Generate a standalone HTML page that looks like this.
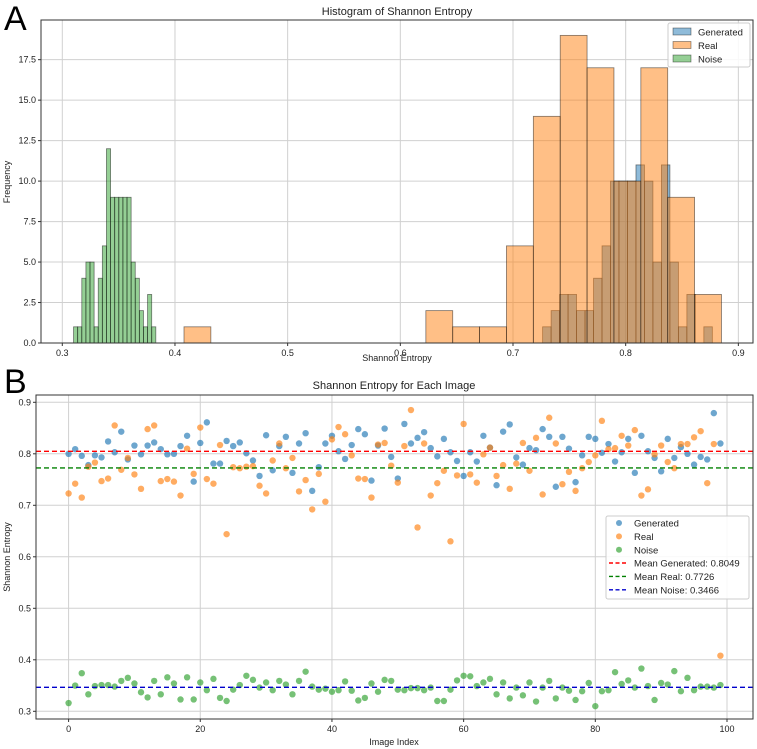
<!DOCTYPE html>
<html><head><meta charset="utf-8">
<style>
html,body{margin:0;padding:0;background:#fff;}
svg{display:block;font-family:"Liberation Sans","DejaVu Sans",sans-serif;}
</style></head>
<body>
<svg id="fig" width="757" height="749" viewBox="0 0 757 749" xmlns="http://www.w3.org/2000/svg">
<text x="4" y="30" font-size="34" fill="#000">A</text>
<text x="397" y="15" font-size="11" text-anchor="middle" fill="#222">Histogram of Shannon Entropy</text>
<text x="397" y="361" font-size="9" text-anchor="middle" fill="#222">Shannon Entropy</text>
<text x="10" y="182" font-size="9" text-anchor="middle" fill="#222" transform="rotate(-90 10 182)">Frequency</text>
<g id="histGrid"></g><g id="histBars"></g><g id="histAxes"></g>
<text x="4" y="393" font-size="34" fill="#000">B</text>
<text x="394" y="389" font-size="11" text-anchor="middle" fill="#222">Shannon Entropy for Each Image</text>
<text x="394" y="745" font-size="9" text-anchor="middle" fill="#222">Image Index</text>
<text x="10" y="557" font-size="9" text-anchor="middle" fill="#222" transform="rotate(-90 10 557)">Shannon Entropy</text>
<g id="scGrid"></g><g id="scMarks"></g><g id="scAxes"></g><g id="legends"></g>
</svg>
<script>
// ---------- Histogram data ----------
const genStart = 0.7263, genWidth = 0.00753;
const genCounts = [1,2,3,3,2,2,4,6,10,10,10,11,10,5,11,5,1,3,0,1];
const realStart = 0.408, realWidth = 0.02385;
const realCounts = [1,0,0,0,0,0,0,0,0,2,1,1,6,14,19,17,10,17,9,3];
const noiseStart = 0.310, noiseWidth = 0.00365;
const noiseCounts = [1,1,4,5,5,1,4,6,12,9,9,9,9,9,5,4,2,1,3,1];
const histXTicks = [0.3,0.4,0.5,0.6,0.7,0.8,0.9];
const histYTicks = [0,2.5,5,7.5,10,12.5,15,17.5];
// ---------- Scatter data ----------
const generated = [0.800,0.809,0.796,0.778,0.797,0.793,0.824,0.803,0.843,0.789,0.816,0.799,0.816,0.822,0.809,0.799,0.800,0.815,0.835,0.746,
0.821,0.861,0.781,0.781,0.825,0.815,0.822,0.801,0.787,0.757,0.836,0.768,0.815,0.833,0.763,0.820,0.840,0.728,0.774,0.820,
0.835,0.805,0.790,0.817,0.848,0.838,0.748,0.816,0.849,0.794,0.752,0.858,0.820,0.831,0.842,0.811,0.795,0.829,0.803,0.786,
0.757,0.803,0.785,0.835,0.812,0.739,0.843,0.857,0.793,0.779,0.811,0.807,0.848,0.833,0.736,0.833,0.810,0.745,0.797,0.833,
0.829,0.802,0.819,0.785,0.803,0.829,0.763,0.835,0.805,0.792,0.766,0.829,0.792,0.813,0.800,0.779,0.794,0.789,0.879,0.820];
const real = [0.723,0.742,0.715,0.775,0.783,0.747,0.752,0.855,0.769,0.792,0.760,0.732,0.848,0.855,0.747,0.751,0.746,0.719,0.810,0.761,
0.851,0.751,0.742,0.817,0.644,0.774,0.772,0.775,0.776,0.738,0.723,0.787,0.820,0.772,0.792,0.727,0.749,0.692,0.761,0.707,
0.828,0.852,0.838,0.797,0.752,0.751,0.715,0.818,0.821,0.777,0.744,0.815,0.885,0.657,0.820,0.719,0.743,0.767,0.630,0.758,
0.858,0.760,0.744,0.799,0.812,0.757,0.778,0.732,0.781,0.821,0.767,0.831,0.721,0.870,0.820,0.741,0.765,0.728,0.772,0.784,
0.797,0.864,0.809,0.811,0.835,0.816,0.846,0.719,0.731,0.799,0.816,0.784,0.772,0.819,0.819,0.832,0.844,0.743,0.819,0.408];
const noise = [0.316,0.350,0.374,0.333,0.349,0.351,0.351,0.348,0.359,0.365,0.354,0.337,0.327,0.359,0.333,0.366,0.354,0.323,0.366,0.323,
0.356,0.341,0.363,0.326,0.320,0.342,0.351,0.369,0.361,0.346,0.356,0.341,0.359,0.352,0.333,0.359,0.377,0.348,0.342,0.344,
0.338,0.341,0.358,0.340,0.321,0.326,0.354,0.338,0.361,0.359,0.342,0.341,0.345,0.345,0.341,0.346,0.320,0.320,0.342,0.360,
0.369,0.368,0.349,0.356,0.363,0.333,0.356,0.325,0.346,0.331,0.356,0.319,0.346,0.359,0.325,0.346,0.340,0.322,0.339,0.355,
0.310,0.339,0.341,0.376,0.353,0.360,0.346,0.383,0.349,0.322,0.355,0.352,0.378,0.339,0.365,0.341,0.348,0.348,0.346,0.351];
const meanValues = [0.8049,0.7726,0.3466];
const meanLabels = ["Mean Generated: 0.8049","Mean Real: 0.7726","Mean Noise: 0.3466"];
const scXTicks = [0,20,40,60,80,100];
const scYTicks = [0.3,0.4,0.5,0.6,0.7,0.8,0.9];

const NS="http://www.w3.org/2000/svg";
function mk(tag, attrs, parent){const e=document.createElementNS(NS,tag);for(const k in attrs)e.setAttribute(k,attrs[k]);parent.appendChild(e);return e;}

// Histogram axes
const H={l:41,r:753,t:20,b:343};
const hx=v=>H.l+(v-0.2811)/(0.913-0.2811)*(H.r-H.l);
const hy=v=>H.b-v/19.95*(H.b-H.t);
const hg=document.getElementById('histGrid');
histXTicks.forEach(t=>{const l=mk('line',{x1:hx(t),x2:hx(t),y1:H.t,y2:H.b,stroke:'#d0d0d0','stroke-width':1},hg);

});
histYTicks.forEach(t=>{const l=mk('line',{x1:H.l,x2:H.r,y1:hy(t),y2:hy(t),stroke:'#d0d0d0','stroke-width':1},hg);

});
const hb=document.getElementById('histBars');
function drawHist(start,w,counts,fill,name){counts.forEach((c,i)=>{if(!c)return;const x0=hx(start+i*w),x1=hx(start+(i+1)*w);
const r=mk('rect',{x:x0,y:hy(c),width:x1-x0,height:hy(0)-hy(c),fill:fill,'fill-opacity':0.5,stroke:'#000','stroke-opacity':0.5,'stroke-width':0.8},hb);

});}
drawHist(genStart,genWidth,genCounts,'#1f77b4','hist-bar-generated');
drawHist(realStart,realWidth,realCounts,'#ff7f0e','hist-bar-real');
drawHist(noiseStart,noiseWidth,noiseCounts,'#2ca02c','hist-bar-noise');
const ha=document.getElementById('histAxes');
const hframe=mk('rect',{x:H.l,y:H.t,width:H.r-H.l,height:H.b-H.t,fill:'none',stroke:'#333','stroke-width':1},ha);


histXTicks.forEach(t=>{mk('line',{x1:hx(t),x2:hx(t),y1:H.b,y2:H.b+3,stroke:'#333'},ha);
const tx=mk('text',{x:hx(t),y:H.b+13,'font-size':9,'text-anchor':'middle',fill:'#222'},ha);tx.textContent=t.toFixed(1);

});
histYTicks.forEach(t=>{mk('line',{x1:H.l-3,x2:H.l,y1:hy(t),y2:hy(t),stroke:'#333'},ha);
const tx=mk('text',{x:H.l-5,y:hy(t)+3,'font-size':9,'text-anchor':'end',fill:'#222'},ha);tx.textContent=t.toFixed(1);

});

// Scatter axes
const S={l:36,r:753,t:395,b:719};
const sx=v=>S.l+(v+4.95)/(103.95+4.95)*(S.r-S.l);
const sy=v=>402.3+(0.9-v)*515;
const sg=document.getElementById('scGrid');
scXTicks.forEach(t=>{const l=mk('line',{x1:sx(t),x2:sx(t),y1:S.t,y2:S.b,stroke:'#d0d0d0'},sg);

});
scYTicks.forEach(t=>{const l=mk('line',{x1:S.l,x2:S.r,y1:sy(t),y2:sy(t),stroke:'#d0d0d0'},sg);

});
const sm=document.getElementById('scMarks');
function drawPts(arr,fill,name){arr.forEach((v,i)=>{const c=mk('circle',{cx:sx(i),cy:sy(v),r:3.2,fill:fill,'fill-opacity':0.65},sm);

});}
drawPts(generated,'#1f77b4','point-generated');
drawPts(real,'#ff7f0e','point-real');
drawPts(noise,'#2ca02c','point-noise');
const meanColors=['#ff0000','#008000','#0000cc'];
const meanNames=['mean-generated-line','mean-real-line','mean-noise-line'];
meanValues.forEach((m,k)=>{const l=mk('line',{x1:S.l,x2:S.r,y1:sy(m),y2:sy(m),stroke:meanColors[k],'stroke-width':1.4,'stroke-dasharray':'5,3'},sm);

});
const sa=document.getElementById('scAxes');
const sframe=mk('rect',{x:S.l,y:S.t,width:S.r-S.l,height:S.b-S.t,fill:'none',stroke:'#333'},sa);


scXTicks.forEach(t=>{mk('line',{x1:sx(t),x2:sx(t),y1:S.b,y2:S.b+3,stroke:'#333'},sa);
const tx=mk('text',{x:sx(t),y:S.b+13,'font-size':9,'text-anchor':'middle',fill:'#222'},sa);tx.textContent=String(t);

});
scYTicks.forEach(t=>{mk('line',{x1:S.l-3,x2:S.l,y1:sy(t),y2:sy(t),stroke:'#333'},sa);
const tx=mk('text',{x:S.l-5,y:sy(t)+3,'font-size':9,'text-anchor':'end',fill:'#222'},sa);tx.textContent=t.toFixed(1);

});

// Legends
const lg=document.getElementById('legends');
const hl=mk('rect',{x:668,y:23,width:82,height:44,rx:2,fill:'#fff','fill-opacity':0.85,stroke:'#ccc'},lg);


[['Generated','#1f77b4'],['Real','#ff7f0e'],['Noise','#2ca02c']].forEach((e,i)=>{const y=32+i*13.5;
mk('rect',{x:673,y:y-4,width:18,height:7,fill:e[1],'fill-opacity':0.5,stroke:'#000','stroke-opacity':0.5,'stroke-width':0.7},lg);
const t=mk('text',{x:698,y:y+3.5,'font-size':9.5,fill:'#222'},lg);t.textContent=e[0];

});
const sl=mk('rect',{x:606,y:516,width:143,height:83,rx:2,fill:'#fff','fill-opacity':0.85,stroke:'#ccc'},lg);


[['Generated','#1f77b4'],['Real','#ff7f0e'],['Noise','#2ca02c']].forEach((e,i)=>{const y=523+i*13.4;
mk('circle',{cx:619,cy:y,r:3,fill:e[1],'fill-opacity':0.65},lg);
const t=mk('text',{x:634,y:y+3.5,'font-size':9.5,fill:'#222'},lg);t.textContent=e[0];

});
meanLabels.forEach((lab,i)=>{const y=563+i*13.4;
mk('line',{x1:609,x2:628,y1:y,y2:y,stroke:meanColors[i],'stroke-width':1.4,'stroke-dasharray':'4,2.5'},lg);
const t=mk('text',{x:634,y:y+3.5,'font-size':9.5,fill:'#222'},lg);t.textContent=lab;

});
</script>
</body></html>
